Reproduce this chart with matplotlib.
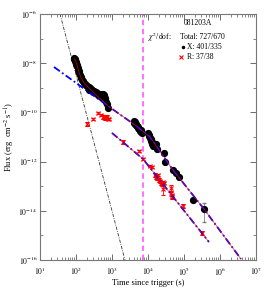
import numpy as np
import matplotlib
matplotlib.use("Agg")
import matplotlib.pyplot as plt
from matplotlib.ticker import LogLocator, NullFormatter

plt.rcParams['font.family'] = ['Liberation Serif', 'DejaVu Serif']
plt.rcParams['mathtext.fontset'] = 'stix'

# X-ray light curve (s, erg cm^-2 s^-1)
x_t = [88, 90, 92, 94, 96, 98, 100, 103, 106, 109, 112, 116, 120, 125, 130, 136,
       142, 150, 158, 167, 176, 186, 198, 210, 224, 230, 240, 256, 275, 295, 300,
       318, 340, 365, 390, 400, 420, 450, 480, 500, 510, 540, 570, 580, 600, 620,
       630, 660, 690, 720, 760,
       4100, 4200, 4300, 4450, 4600, 4700, 4850, 5000, 5200, 5400, 5600, 5800,
       6000, 6300, 6600, 6900,
       1.0e4, 1.05e4, 1.1e4, 1.12e4, 1.18e4, 1.22e4, 1.27e4, 1.3e4, 1.35e4,
       1.66e4, 1.8e4, 2.77e4, 2.9e4, 4.9e4, 6.0e4, 7.3e4, 1.8e5, 3.6e5]
x_f = [1.6e-8, 1.45e-8, 1.5e-8, 1.3e-8, 1.2e-8, 1.15e-8, 1.05e-8, 9.5e-9, 8.2e-9,
       7.4e-9, 6.3e-9, 5.4e-9, 4.6e-9, 3.9e-9, 3.4e-9, 2.8e-9,
       2.5e-9, 2.1e-9, 1.85e-9, 1.6e-9, 1.45e-9, 1.35e-9, 1.2e-9, 1.1e-9, 1.05e-9,
       8.5e-10, 9.5e-10, 8.8e-10, 8.4e-10, 7.6e-10, 6.5e-10,
       7.6e-10, 6.8e-10, 6.6e-10, 6.0e-10, 5.0e-10, 5.8e-10, 5.1e-10, 5.5e-10,
       4.2e-10, 4.8e-10, 5.2e-10, 4.4e-10, 5.6e-10, 4.6e-10, 4.9e-10,
       3.8e-10, 3.3e-10, 2.7e-10, 2.1e-10, 1.5e-10,
       4.6e-11, 3.8e-11, 4.2e-11, 3.4e-11, 3.0e-11, 3.5e-11, 2.7e-11, 2.9e-11,
       2.4e-11, 2.5e-11, 2.1e-11, 2.2e-11, 1.8e-11, 1.9e-11, 1.6e-11, 1.5e-11,
       1.5e-11, 1.25e-11, 1.1e-11, 9e-12, 8e-12, 7e-12, 6e-12, 5.2e-12, 4.5e-12,
       5.2e-12, 3.2e-12, 2.2e-12, 9.5e-13, 4.6e-13, 3.5e-13, 2.3e-13, 2.75e-14,
       1.2e-14]
# only the last X point has a visible error bar
x_last_lo = 3.5e-15
x_last_hi = 2.1e-14

# optical R-band light curve
r_t = [202, 294, 405, 490, 560, 600, 650, 680, 730, 780, 830,
       2040, 5500, 7200, 1.13e4, 1.3e4, 1.56e4, 1.7e4, 1.8e4, 1.9e4, 2.0e4,
       2.2e4, 2.3e4, 2.45e4, 2.6e4, 2.65e4, 2.8e4, 4.3e4, 4.4e4, 4.6e4, 4.8e4,
       9.3e4, 3.2e5]
r_f = [3.4e-11, 5.4e-11, 9.5e-11, 7.8e-11, 6.5e-11, 6.8e-11, 5.8e-11, 5.9e-11,
       6.5e-11, 5.5e-11, 5.4e-11,
       6.3e-12, 2.7e-12, 1.3e-12, 6.6e-13, 6.0e-13, 2.9e-13, 2.4e-13, 2.1e-13,
       2.9e-13, 1.8e-13, 1.6e-13, 1.35e-13, 1.23e-13, 1.5e-13, 8e-14, 1.35e-13,
       8.5e-14, 5.2e-14, 3.6e-14, 4.2e-14, 1.6e-14, 1.26e-15]
r_err = [0.15, 0.12, 0.12, 0.12, 0.15, 0.12, 0.15, 0.12, 0.15, 0.12, 0.12,
         0.15, 0.12, 0.12, 0.12, 0.12, 0.15, 0.15, 0.15, 0.12, 0.15,
         0.15, 0.15, 0.15, 0.12, 0.45, 0.12, 0.3, 0.2, 0.2, 0.2,
         0.15, 0.2]

# model curves
xmod_t = [24.5, 774, 4350, 1.14e4, 4.95e4, 3.6e5, 3.83e6]
xmod_f = [7.0e-9, 1.82e-10, 3.08e-11, 1.0e-11, 4.56e-13, 1.18e-14, 1.1e-16]
xtot_t = [90, 94, 100, 107, 114, 121, 129, 138, 156, 178, 215, 261, 316, 383,
          464, 600, 774, 4350, 1.14e4, 4.95e4, 3.6e5, 3.83e6]
xtot_f = [1.5e-8, 1.35e-8, 1.12e-8, 8.5e-9, 5.8e-9, 4.4e-9, 3.3e-9, 2.5e-9,
          1.9e-9, 1.4e-9, 1.07e-9, 8.2e-10, 6.3e-10, 4.8e-10, 3.7e-10, 2.6e-10,
          1.82e-10, 3.08e-11, 1.0e-11, 4.56e-13, 1.18e-14, 1.1e-16]
rmod_t = [1000, 7260, 4.95e5]
rmod_f = [1.46e-11, 1.28e-12, 5.4e-16]
steep_t = [36, 2300]
steep_f = [1e-6, 1e-16]
t_vline = 7100

fig = plt.figure(figsize=(2.70, 2.91), dpi=100)
ax = fig.add_axes([0.148, 0.1065, 0.8, 0.8455])

ax.plot(steep_t, steep_f, color='#333333', lw=0.6, dashes=(4, 1.5, 1, 1.5))
ax.axvline(t_vline, color='#ff66ff', lw=1.3, dashes=(3, 2))

ax.plot(x_t, x_f, 'o', color='black', ms=4.2, mec='black', zorder=3)
ax.errorbar([x_t[-1]], [x_f[-1]],
            yerr=[[x_f[-1] - x_last_lo], [x_last_hi - x_f[-1]]],
            fmt='none', ecolor='gray', elinewidth=0.6, capsize=1.5, zorder=2)

r_t_a = np.array(r_t)
r_f_a = np.array(r_f)
r_e = r_f_a * np.array(r_err)
ax.errorbar(r_t_a, r_f_a, yerr=r_e, fmt='x', color='red', ms=3, mew=0.8,
            elinewidth=0.6, capsize=1.5, zorder=3)

ax.plot(xmod_t, xmod_f, color='blue', lw=1.3, dashes=(4, 1.5, 1, 1.5), zorder=4)
ax.plot(rmod_t, rmod_f, color='blue', lw=1.3, dashes=(4, 1.5, 1, 1.5), zorder=4)
ax.plot(xtot_t, xtot_f, color='red', lw=0.4, zorder=5)
ax.plot(rmod_t, rmod_f, color='red', lw=0.4, zorder=5)

ax.set_xscale('log')
ax.set_yscale('log')
ax.set_xlim(10, 1e7)
ax.set_ylim(1e-16, 1e-6)

ax.set_xticks([10.0**k for k in range(1, 8)])
ax.set_xticklabels([r'$10^{%d}$' % k for k in range(1, 8)])
ax.set_yticks([10.0**k for k in range(-16, -5, 2)])
ax.set_yticklabels([r'$10^{%d}$' % k for k in range(-16, -5, 2)])
ax.set_yticks([10.0**k for k in range(-15, -6, 2)], minor=True)
ax.yaxis.set_minor_formatter(NullFormatter())
ax.xaxis.set_minor_locator(LogLocator(base=10, subs=np.arange(2, 10), numticks=20))
ax.xaxis.set_minor_formatter(NullFormatter())

ax.tick_params(which='both', direction='in', top=True, right=True,
               labelsize=5.5, colors='#555555', labelcolor='black')
ax.tick_params(axis='x', pad=4)
ax.tick_params(axis='y', pad=2)
ax.tick_params(which='major', length=4, width=0.6)
ax.tick_params(which='minor', length=2, width=0.5)
for s in ax.spines.values():
    s.set_color('#777777')
    s.set_linewidth(0.8)

ax.set_xlabel('Time since trigger (s)', fontsize=6, labelpad=1)
ax.set_ylabel(r'Flux (erg  cm$^{-2}$ s$^{-1}$)', fontsize=6, labelpad=1)

ax.text(0.731, 0.963, '081203A', transform=ax.transAxes, fontsize=5.5,
        ha='center', va='center')
ax.text(0.5, 0.907, r'$\chi^2$/dof:', transform=ax.transAxes, fontsize=5.5,
        ha='left', va='center')
ax.text(0.648, 0.907, 'Total: 727/670', transform=ax.transAxes, fontsize=5.5,
        ha='left', va='center')
ax.plot([0.66], [0.866], 'o', color='black', ms=1.5, transform=ax.transAxes)
ax.text(0.68, 0.866, 'X: 401/335', transform=ax.transAxes, fontsize=5.5,
        ha='left', va='center')
ax.plot([0.655], [0.825], 'x', color='red', ms=2.5, mew=0.8, transform=ax.transAxes)
ax.text(0.68, 0.825, 'R: 37/38', transform=ax.transAxes, fontsize=5.5,
        ha='left', va='center')

fig.savefig('out.png', dpi=100)
